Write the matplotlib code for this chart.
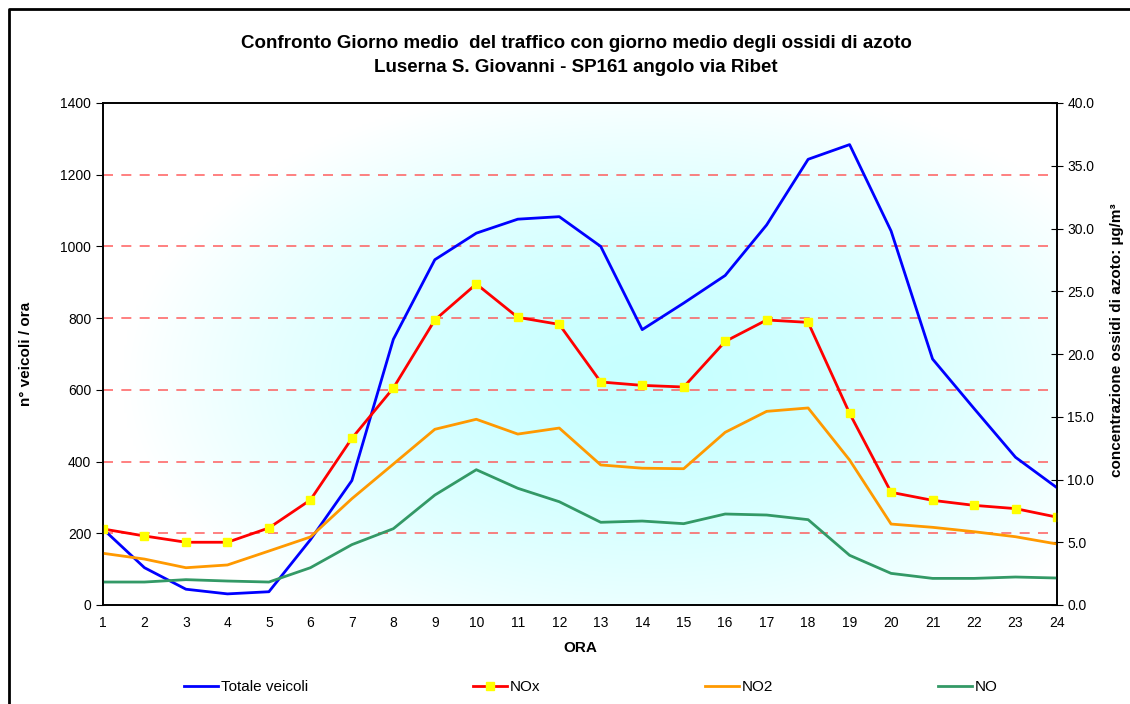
import matplotlib
matplotlib.use("Agg")
import matplotlib.pyplot as plt
import numpy as np
from matplotlib.lines import Line2D

plt.rcParams['font.family'] = ['Liberation Sans', 'DejaVu Sans']
plt.rcParams['font.size'] = 10

ORE = list(range(1, 25))
# veicoli / ora (asse sinistro)
TOTALE_VEICOLI = [212, 104, 44, 31, 37, 182, 347, 741, 963, 1037, 1076, 1083,
                  1000, 768, 842, 919, 1060, 1243, 1284, 1043, 686, 548, 412, 327]
# concentrazioni ug/m3 (asse destro)
NOX = [6.06, 5.5, 5.0, 5.0, 6.14, 8.37, 13.28, 17.29, 22.71, 25.58, 22.92, 22.36,
       17.77, 17.5, 17.37, 21.0, 22.71, 22.52, 15.27, 8.98, 8.34, 7.94, 7.68, 7.0]
NO2 = [4.12, 3.66, 2.97, 3.19, 4.3, 5.42, 8.47, 11.23, 14.0, 14.8, 13.62, 14.1,
       11.16, 10.9, 10.86, 13.76, 15.43, 15.7, 11.55, 6.45, 6.19, 5.84, 5.44, 4.86]
NO = [1.83, 1.83, 2.02, 1.91, 1.83, 2.97, 4.81, 6.08, 8.76, 10.78, 9.3, 8.23,
      6.59, 6.69, 6.48, 7.25, 7.17, 6.8, 3.96, 2.52, 2.12, 2.12, 2.23, 2.15]

LEFT_TICKS = [0, 200, 400, 600, 800, 1000, 1200, 1400]
RIGHT_TICKS = [0, 5, 10, 15, 20, 25, 30, 35, 40]

fig = plt.figure(figsize=(11.3, 7.04), dpi=100)
ax = fig.add_axes([103 / 1130, 99 / 704, 954 / 1130, 502 / 704])
ax2 = ax.twinx()

# sfondo sfumato ciano dal centro
gx, gy = np.meshgrid(np.linspace(0, 1, 300), np.linspace(0, 1, 200))
r = np.sqrt(((gx - 0.57) / 0.55) ** 2 + ((gy - 0.45) / 0.6) ** 2)
t = np.clip(r, 0, 1) ** 1.6
center = np.array([0.78, 1.0, 1.0])
white = np.array([1.0, 1.0, 1.0])
grad = center[None, None, :] * (1 - t[..., None]) + white[None, None, :] * t[..., None]
ax.imshow(grad, extent=[0, 1, 0, 1], transform=ax.transAxes, aspect='auto',
          origin='lower', zorder=0, interpolation='bilinear')

for y in LEFT_TICKS[1:-1]:
    ax.axhline(y, color='#ff5050', lw=1.2, ls=(0, (6, 5)), alpha=0.85, zorder=1)

ax.plot(ORE, TOTALE_VEICOLI, color='#0000ff', lw=2, zorder=3)
ax2.plot(ORE, NO, color='#339966', lw=2)
ax2.plot(ORE, NO2, color='#ff9900', lw=2)
ax2.plot(ORE, NOX, color='#ff0000', lw=2, marker='s', ms=6,
         mfc='#ffff00', mec='#ffff00')

ax.set_xlim(1, 24)
ax.set_ylim(0, 1400)
ax2.set_ylim(0, 40)
ax.set_xticks(ORE)
ax.set_yticks(LEFT_TICKS)
ax2.set_yticks(RIGHT_TICKS)
ax2.set_yticklabels([f"{v:.1f}" for v in RIGHT_TICKS])
ax.tick_params(axis='x', length=0, pad=8, labelsize=10)
ax.tick_params(axis='y', direction='out', length=5, labelsize=10)
ax2.tick_params(axis='y', direction='inout', length=8, labelsize=10)
for a in (ax, ax2):
    for s in a.spines.values():
        s.set_linewidth(1.2)

ax.set_xlabel("ORA", fontweight='bold', fontsize=11, labelpad=8)
ax.set_ylabel("n° veicoli / ora", fontweight='bold', fontsize=11)
ax.yaxis.set_label_coords(-0.073, 0.5)
ax2.set_ylabel("concentrazione ossidi di azoto: µg/m³", fontweight='bold', fontsize=11)
ax2.yaxis.set_label_coords(1.0556, 0.528)

fig.text(0.51, 0.938, "Confronto Giorno medio  del traffico con giorno medio degli ossidi di azoto",
         ha='center', va='center', fontweight='bold', fontsize=13.5)
fig.text(0.51, 0.904, "Luserna S. Giovanni - SP161 angolo via Ribet",
         ha='center', va='center', fontweight='bold', fontsize=13.5)

handles = [
    Line2D([], [], color='#0000ff', lw=2),
    Line2D([], [], color='#ff0000', lw=2, marker='s', ms=6, mfc='#ffff00', mec='#ffff00'),
    Line2D([], [], color='#ff9900', lw=2),
    Line2D([], [], color='#339966', lw=2),
]
fig.legend(handles, ["Totale veicoli", "NOx", "NO2", "NO"], loc='center',
           bbox_to_anchor=(0.523, 0.024), ncol=4, frameon=False,
           columnspacing=10.8, handlelength=2.2, handletextpad=0.2, fontsize=11)

# cornice esterna (solo lato sinistro e superiore)
fig.add_artist(Line2D([9 / 1130, 9 / 1130, 1.0], [0.0, 1 - 9 / 704, 1 - 9 / 704],
                      color='black', lw=2, transform=fig.transFigure))

fig.savefig("out.png", dpi=100)
